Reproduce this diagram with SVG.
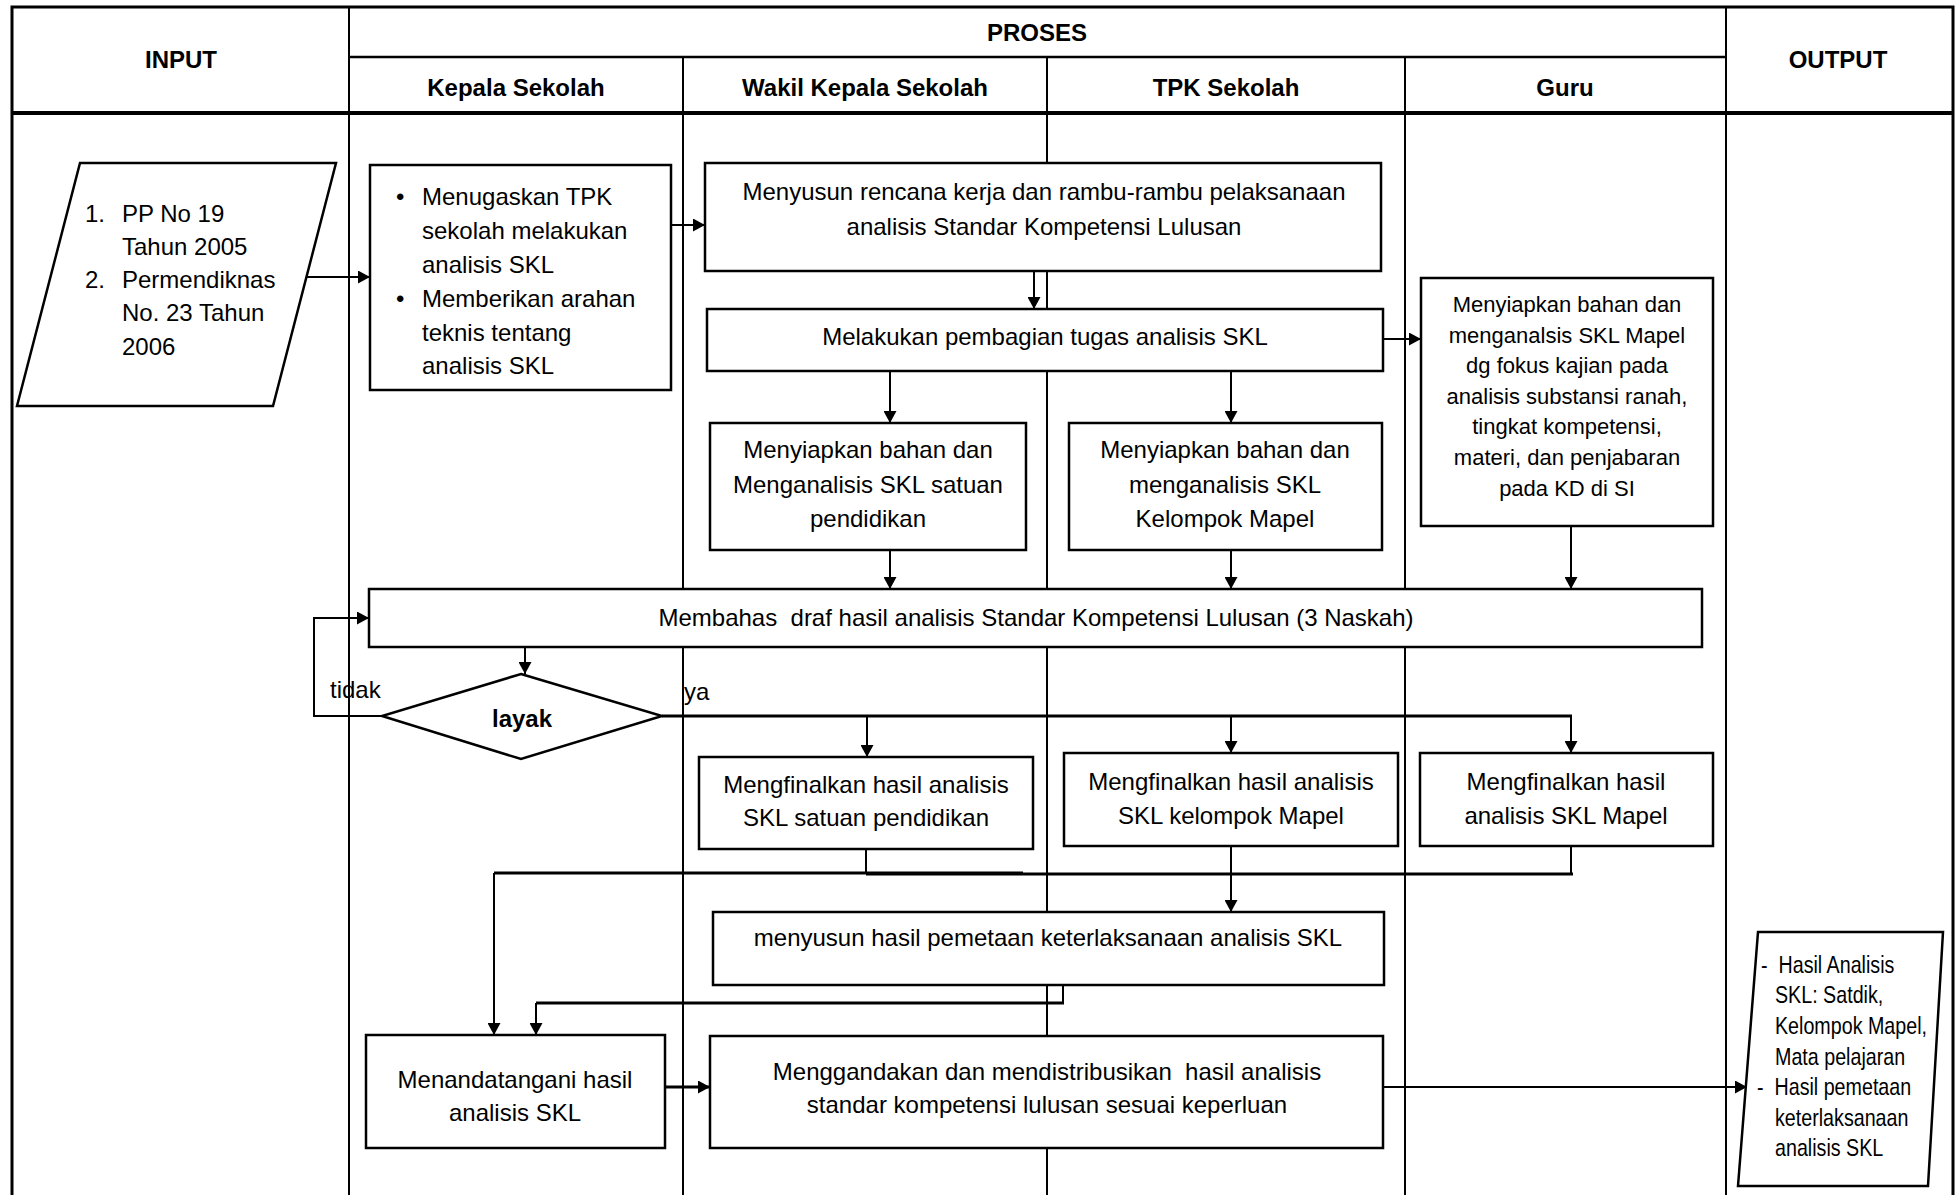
<svg xmlns="http://www.w3.org/2000/svg" width="1957" height="1195" viewBox="0 0 1957 1195">
<defs>
<style>
.t{font-family:"Liberation Sans",Arial,sans-serif;font-size:24px;fill:#000}
.b{font-weight:bold}
.c{text-anchor:middle}
.s{font-size:22px}
.pre{white-space:pre}
.box{fill:#fff;stroke:#000;stroke-width:2.5}
.ln{fill:none;stroke:#000;stroke-width:2}
.cn{fill:none;stroke:#000;stroke-width:2}
.hv{stroke-width:3}
.ar{marker-end:url(#ah)}
</style>
<marker id="ah" markerWidth="12" markerHeight="13" refX="12" refY="6.5" orient="auto" markerUnits="userSpaceOnUse"><path d="M0,0 L12,6.5 L0,13 z" fill="#000"/></marker>
</defs>
<rect width="1957" height="1195" fill="#fff"/>
<g id="table">
<path class="ln" style="stroke-width:3" d="M12,1195 V7 H1953 V1195"/>
<line class="ln" style="stroke-width:4" x1="12" y1="113" x2="1953" y2="113"/>
<line class="ln" style="stroke-width:2.5" x1="349" y1="57" x2="1726" y2="57"/>
<line class="ln" x1="349" y1="7" x2="349" y2="1195"/>
<line class="ln" x1="683" y1="57" x2="683" y2="1195"/>
<line class="ln" x1="1047" y1="57" x2="1047" y2="1195"/>
<line class="ln" x1="1405" y1="57" x2="1405" y2="1195"/>
<line class="ln" x1="1726" y1="7" x2="1726" y2="1195"/>
<text class="t b c" x="181" y="68">INPUT</text>
<text class="t b c" x="1037" y="41">PROSES</text>
<text class="t b c" x="1838" y="68">OUTPUT</text>
<text class="t b c" x="516" y="96">Kepala Sekolah</text>
<text class="t b c" x="865" y="96">Wakil Kepala Sekolah</text>
<text class="t b c" x="1226" y="96">TPK Sekolah</text>
<text class="t b c" x="1565" y="96">Guru</text>
</g>
<g id="input">
<polygon class="box" points="80,163 336,163 273,406 17,406"/>
<text class="t" x="85" y="222">1.</text><text class="t" x="122" y="222">PP No 19</text>
<text class="t" x="122" y="255">Tahun 2005</text>
<text class="t" x="85" y="288">2.</text><text class="t" x="122" y="288">Permendiknas</text>
<text class="t" x="122" y="321">No. 23 Tahun</text>
<text class="t" x="122" y="355">2006</text>
</g>
<g id="kepala-tugas">
<rect class="box" x="370" y="165" width="301" height="225"/>
<text class="t" x="396" y="205">•</text><text class="t" x="422" y="205">Menugaskan TPK</text>
<text class="t" x="422" y="239">sekolah melakukan</text>
<text class="t" x="422" y="273">analisis SKL</text>
<text class="t" x="396" y="307">•</text><text class="t" x="422" y="307">Memberikan arahan</text>
<text class="t" x="422" y="341">teknis tentang</text>
<text class="t" x="422" y="374">analisis SKL</text>
</g>
<g id="rencana">
<rect class="box" x="705" y="163" width="676" height="108"/>
<text class="t c" x="1044" y="200">Menyusun rencana kerja dan rambu-rambu pelaksanaan</text>
<text class="t c" x="1044" y="235">analisis Standar Kompetensi Lulusan</text>
</g>
<g id="pembagian">
<rect class="box" x="707" y="309" width="676" height="62"/>
<text class="t c" x="1045" y="345">Melakukan pembagian tugas analisis SKL</text>
</g>
<g id="satuan">
<rect class="box" x="710" y="423" width="316" height="127"/>
<text class="t c" x="868" y="458">Menyiapkan bahan dan</text>
<text class="t c" x="868" y="493">Menganalisis SKL satuan</text>
<text class="t c" x="868" y="527">pendidikan</text>
</g>
<g id="kelompok">
<rect class="box" x="1069" y="423" width="313" height="127"/>
<text class="t c" x="1225" y="458">Menyiapkan bahan dan</text>
<text class="t c" x="1225" y="493">menganalisis SKL</text>
<text class="t c" x="1225" y="527">Kelompok Mapel</text>
</g>
<g id="guru-mapel">
<rect class="box" x="1421" y="278" width="292" height="248"/>
<text class="t s c" x="1567" y="312">Menyiapkan bahan dan</text>
<text class="t s c" x="1567" y="343">menganalsis SKL Mapel</text>
<text class="t s c" x="1567" y="373">dg fokus kajian pada</text>
<text class="t s c" x="1567" y="404">analisis substansi ranah,</text>
<text class="t s c" x="1567" y="434">tingkat kompetensi,</text>
<text class="t s c" x="1567" y="465">materi, dan penjabaran</text>
<text class="t s c" x="1567" y="496">pada KD di SI</text>
</g>
<g id="membahas">
<rect class="box" x="369" y="589" width="1333" height="58"/>
<text class="t c pre" x="1036" y="626">Membahas  draf hasil analisis Standar Kompetensi Lulusan (3 Naskah)</text>
</g>
<g id="layak">
<polygon class="box" points="521,674 662,716 521,759 382,716"/>
<text class="t b c" x="522" y="727">layak</text>
</g>
<g id="final-satuan">
<rect class="box" x="699" y="757" width="334" height="92"/>
<text class="t c" x="866" y="793">Mengfinalkan hasil analisis</text>
<text class="t c" x="866" y="826">SKL satuan pendidikan</text>
</g>
<g id="final-kelompok">
<rect class="box" x="1064" y="753" width="334" height="93"/>
<text class="t c" x="1231" y="790">Mengfinalkan hasil analisis</text>
<text class="t c" x="1231" y="824">SKL kelompok Mapel</text>
</g>
<g id="final-mapel">
<rect class="box" x="1420" y="753" width="293" height="93"/>
<text class="t c" x="1566" y="790">Mengfinalkan hasil</text>
<text class="t c" x="1566" y="824">analisis SKL Mapel</text>
</g>
<g id="pemetaan">
<rect class="box" x="713" y="912" width="671" height="73"/>
<text class="t c" x="1048" y="946">menyusun hasil pemetaan keterlaksanaan analisis SKL</text>
</g>
<g id="menandatangani">
<rect class="box" x="366" y="1035" width="299" height="113"/>
<text class="t c" x="515" y="1088">Menandatangani hasil</text>
<text class="t c" x="515" y="1121">analisis SKL</text>
</g>
<g id="menggandakan">
<rect class="box" x="710" y="1036" width="673" height="112"/>
<text class="t c pre" x="1047" y="1080">Menggandakan dan mendistribusikan  hasil analisis</text>
<text class="t c" x="1047" y="1113">standar kompetensi lulusan sesuai keperluan</text>
</g>
<g id="output">
<polygon class="box" points="1758,932 1943,932 1928,1186 1738,1186"/>
<text class="t pre" transform="translate(1761,973) scale(0.82,1)">-  Hasil Analisis</text>
<text class="t" transform="translate(1775,1003) scale(0.82,1)">SKL: Satdik,</text>
<text class="t" transform="translate(1775,1034) scale(0.82,1)">Kelompok Mapel,</text>
<text class="t" transform="translate(1775,1065) scale(0.82,1)">Mata pelajaran</text>
<text class="t pre" transform="translate(1757,1095) scale(0.82,1)">-  Hasil pemetaan</text>
<text class="t" transform="translate(1775,1126) scale(0.82,1)">keterlaksanaan</text>
<text class="t" transform="translate(1775,1156) scale(0.82,1)">analisis SKL</text>
</g>
<g id="connectors">
<path class="cn ar" d="M307,277 H370"/>
<path class="cn ar" d="M671,225 H705"/>
<path class="cn ar" d="M1034,271 V309"/>
<path class="cn ar" d="M890,371 V423"/>
<path class="cn ar" d="M1231,371 V423"/>
<path class="cn ar" d="M1383,339 H1421"/>
<path class="cn ar" d="M890,550 V589"/>
<path class="cn ar" d="M1231,550 V589"/>
<path class="cn ar" d="M1571,526 V589"/>
<path class="cn ar" d="M525,647 V674"/>
<path class="cn ar" d="M382,716 H314 V618 H369"/>
<text class="t" x="330" y="698">tidak</text>
<text class="t" x="684" y="700">ya</text>
<path class="cn hv" d="M662,716 H1572"/>
<path class="cn ar" d="M867,716 V757"/>
<path class="cn ar" d="M1231,716 V753"/>
<path class="cn ar" d="M1571,716 V753"/>
<path class="cn" d="M866,849 V874"/>
<path class="cn" d="M1571,846 V874"/>
<path class="cn hv" d="M866,874 H1573"/>
<path class="cn ar" d="M1231,846 V912"/>
<path class="cn hv" d="M1023,873 H494"/>
<path class="cn ar" d="M494,873 V1035"/>
<path class="cn" d="M1063,985 V1003"/>
<path class="cn hv" d="M1064,1003 H536"/>
<path class="cn ar" d="M536,1003 V1035"/>
<path class="cn ar hv" d="M665,1087 H710"/>
<path class="cn ar" d="M1383,1087 H1747"/>
</g>
</svg>
